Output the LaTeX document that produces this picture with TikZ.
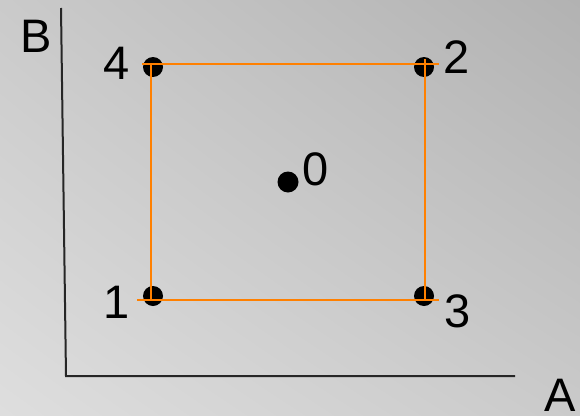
\documentclass[tikz,border=0pt]{standalone}
\usepackage{fontspec}
\setmainfont{Liberation Sans}
\usepackage{tikz}
\usetikzlibrary{calc, shadings}
\definecolor{bglight}{RGB}{222,222,222}
\definecolor{bgmid}{RGB}{202,202,202}
\definecolor{bgdark}{RGB}{178,178,178}
\definecolor{myorange}{RGB}{255,128,0}
\tikzset{
  axis/.style={line width=2pt, color=black!85},
  square/.style={line width=2pt, color=myorange},
  dot/.style={circle, fill=black, inner sep=0pt, minimum size=20pt},
  lbl/.style={font=\fontsize{47}{50}\selectfont, inner sep=0pt}
}

\begin{document}
\begin{tikzpicture}[x=1pt, y=-1pt]
  % Background
  \useasboundingbox (0,0) rectangle (580,415);
  \shade[lower left=bglight, upper right=bgdark, upper left=bgmid, lower right=bgmid]
    (0,0) rectangle (580,415);

  % Axes
  \coordinate (ytop) at (61,8);
  \coordinate (origin) at (66,376);
  \coordinate (xend) at (515,376);
  \draw[axis] (ytop) -- (origin) -- (xend);
  \node[lbl] (labB) at (36,36) {B};
  \node[lbl] (labA) at (560,395) {A};

  % Design points
  \node[dot] (p1) at (153,296) {};
  \node[dot] (p2) at (424,67) {};
  \node[dot] (p3) at (424,296) {};
  \node[dot] (p4) at (153,67) {};
  \node[dot, minimum size=21pt] (p0) at (288,182) {};

  % Square
  \draw[square] ($(p4)+(-11,-3)$) -- ($(p2)+(15,-3)$);
  \draw[square] ($(p4)+(-2,-3)$) -- ($(p1)+(-2,4)$);
  \draw[square] ($(p1)+(-16,4)$) -- ($(p3)+(15,4)$);
  \draw[square] ($(p2)+(1,-8)$) -- ($(p3)+(1,4)$);

  % Point labels
  \node[lbl] (l1) at (117,302) {1};
  \node[lbl] (l2) at (457,57) {2};
  \node[lbl] (l3) at (458,311) {3};
  \node[lbl] (l4) at (117,63) {4};
  \node[lbl] (l0) at (316,169) {0};
\end{tikzpicture}
\end{document}
